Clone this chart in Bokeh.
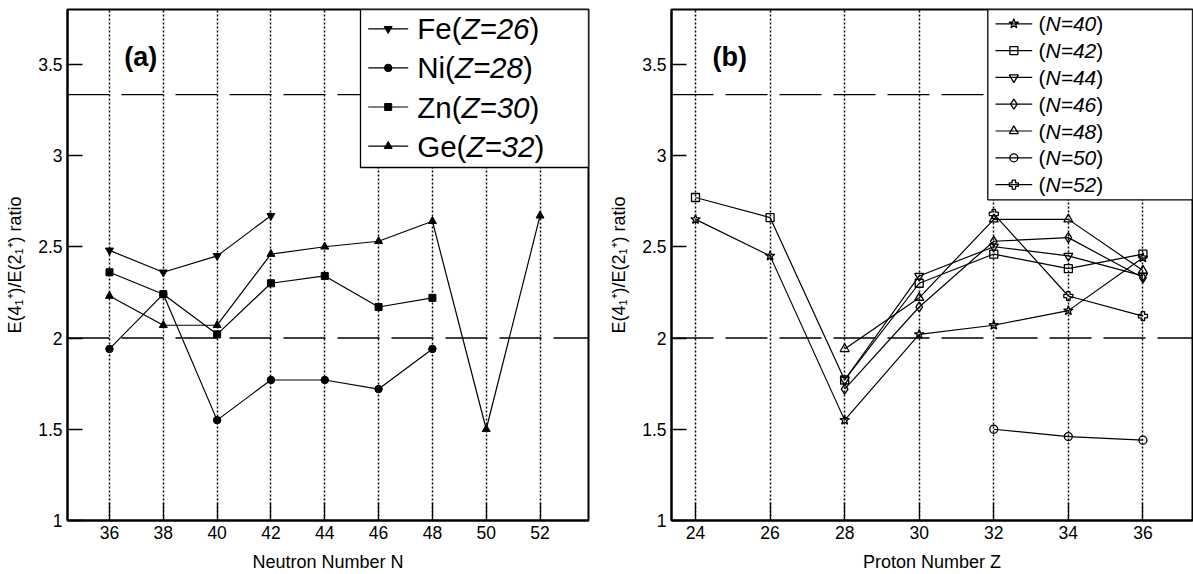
from bokeh.plotting import figure
from bokeh.models import Range1d, FixedTicker, Span, Label
from bokeh.layouts import row
from bokeh.embed import file_html
from bokeh.resources import INLINE

FONT = "Liberation Sans"

# ---------------- data: panel (a) ----------------
a_N_ticks = [36, 38, 40, 42, 44, 46, 48, 50, 52]
fe_N = [36, 38, 40, 42]
fe_ratio = [2.48, 2.36, 2.45, 2.67]
ni_N = [36, 38, 40, 42, 44, 46, 48]
ni_ratio = [1.94, 2.24, 1.55, 1.77, 1.77, 1.72, 1.94]
zn_N = [36, 38, 40, 42, 44, 46, 48]
zn_ratio = [2.36, 2.24, 2.02, 2.30, 2.34, 2.17, 2.22]
ge_N = [36, 38, 40, 42, 44, 46, 48, 50, 52]
ge_ratio = [2.23, 2.07, 2.07, 2.46, 2.50, 2.53, 2.64, 1.50, 2.67]
a_elements = ["Fe", "Ni", "Zn", "Ge"]
a_Z = ["26", "28", "30", "32"]

# ---------------- data: panel (b) ----------------
b_Z_ticks = [24, 26, 28, 30, 32, 34, 36]
n40_Z = [24, 26, 28, 30, 32, 34, 36]
n40_ratio = [2.65, 2.45, 1.55, 2.02, 2.07, 2.15, 2.44]
n42_Z = [24, 26, 28, 30, 32, 34, 36]
n42_ratio = [2.77, 2.66, 1.77, 2.30, 2.46, 2.38, 2.46]
n44_Z = [28, 30, 32, 34, 36]
n44_ratio = [1.77, 2.34, 2.50, 2.45, 2.34]
n46_Z = [28, 30, 32, 34, 36]
n46_ratio = [1.72, 2.17, 2.53, 2.55, 2.33]
n48_Z = [28, 30, 32, 34, 36]
n48_ratio = [1.94, 2.22, 2.65, 2.65, 2.37]
n50_Z = [32, 34, 36]
n50_ratio = [1.50, 1.46, 1.44]
n52_Z = [32, 34, 36]
n52_ratio = [2.68, 2.23, 2.12]
b_N = ["40", "42", "44", "46", "48", "50", "52"]

y_ticks = [1, 1.5, 2, 2.5, 3, 3.5]
y_tick_labels = ["1", "1.5", "2", "2.5", "3", "3.5"]
ref_lines = [10 / 3, 2.0]
Y_LABEL = "E(4\u2081\u207a)/E(2\u2081\u207a) ratio"

# ---------------- layout constants ----------------
FW, FH = 521, 511
Y0, Y1 = 1.0, 3.8
XA = (34.44, 53.8)
XB = (23.356, 37.33)

ARIAL = {'F': 611, 'e': 556, '(': 333, ')': 333, 'Z': 611, '=': 584, 'N': 722,
         'i': 222, 'n': 556, 'G': 778}
for d in "0123456789":
    ARIAL[d] = 556


def tw(s, size):
    return sum(ARIAL.get(c, 556) for c in s) * size / 1000.0


def fx(xr, px):
    return xr[0] + px / FW * (xr[1] - xr[0])


def fy(px):
    return Y1 - px / FH * (Y1 - Y0)


def make_panel(xr, xticks, xlabel, left, right):
    p = figure(output_backend="svg", toolbar_location=None,
               frame_width=FW, frame_height=FH,
               x_range=Range1d(*xr), y_range=Range1d(Y0, Y1),
               min_border_left=left, min_border_right=right,
               min_border_top=9, min_border_bottom=54,
               background_fill_color="white", border_fill_color="white")
    p.outline_line_color = "black"
    p.outline_line_width = 2
    p.outline_line_alpha = 1
    p.xaxis.ticker = FixedTicker(ticks=xticks)
    p.yaxis.ticker = FixedTicker(ticks=y_ticks)
    p.yaxis.major_label_overrides = dict(zip(y_ticks, y_tick_labels))
    for ax in (p.xaxis[0], p.yaxis[0]):
        ax.axis_line_width = 2
        ax.axis_line_color = "black"
        ax.major_tick_out = 0
        ax.minor_tick_in = 0
        ax.minor_tick_out = 0
        ax.major_tick_line_width = 1.3
        ax.major_tick_line_color = "black"
        ax.major_label_text_font = FONT
        ax.major_label_text_font_size = "17.5px"
        ax.major_label_text_color = "black"
        ax.axis_label_text_font = FONT
        ax.axis_label_text_font_size = "18px"
        ax.axis_label_text_font_style = "normal"
        ax.axis_label_text_color = "black"
    p.xaxis.major_tick_in = 18
    p.yaxis.major_tick_in = 15
    p.xaxis.major_label_standoff = 5
    p.yaxis.major_label_standoff = 5
    p.xaxis.axis_label_standoff = 10
    p.yaxis.axis_label_standoff = 10
    p.xaxis.axis_label = xlabel
    p.yaxis.axis_label = Y_LABEL
    p.xgrid.ticker = FixedTicker(ticks=xticks)
    p.xgrid.grid_line_color = "black"
    p.xgrid.grid_line_dash = "2 2"
    p.xgrid.grid_line_width = 1.5
    p.ygrid.visible = False
    for loc in ref_lines:
        p.add_layout(Span(location=loc, dimension="width", line_color="black",
                          line_width=1.3, line_dash="42 12", level="underlay"))
    return p


def series(p, x, y, marker, size, fill, mlw=1.0):
    p.line(x, y, line_color="black", line_width=1.2)
    p.scatter(x, y, marker=marker, size=size, line_color="black",
              fill_color=fill, line_width=mlw)


def legend(p, xr, box_l, box_b, line_l, line_r, text_l, row0, dy, entries, fsize, mlw):
    p.quad(left=fx(xr, box_l), right=xr[1], top=Y1, bottom=fy(box_b),
           fill_color="white", line_color="black", line_width=1.3)
    for i, (parts, marker, msize, fill) in enumerate(entries):
        yy = fy(row0 + i * dy)
        p.line([fx(xr, line_l), fx(xr, line_r)], [yy, yy], line_color="black", line_width=1.2)
        p.scatter([fx(xr, (line_l + line_r) / 2)], [yy], marker=marker, size=msize,
                  line_color="black", fill_color=fill, line_width=mlw)
        px = text_l
        for txt, style in parts:
            p.add_layout(Label(x=fx(xr, px), y=yy, text=txt, text_font=FONT,
                               text_font_size=f"{fsize}px", text_font_style=style,
                               text_color="black", text_align="left",
                               text_baseline="middle"))
            px += tw(txt, fsize)


# ---------------- panel (a) ----------------
pa = make_panel(XA, a_N_ticks, "Neutron Number N", 67, 16)
series(pa, fe_N, fe_ratio, "inverted_triangle", 8, "black")
series(pa, ni_N, ni_ratio, "circle", 7.5, "black")
series(pa, zn_N, zn_ratio, "square", 7, "black")
series(pa, ge_N, ge_ratio, "triangle", 8, "black")
a_markers = ["inverted_triangle", "circle", "square", "triangle"]
a_sizes = [8, 7.5, 7, 8]
a_entries = [([(el + "(", "normal"), ("Z=" + z, "italic"), (")", "normal")], m, s, "black")
             for el, z, m, s in zip(a_elements, a_Z, a_markers, a_sizes)]
legend(pa, XA, 293, 158, 300.7, 340.7, 349.7, 19.3, 39.1, a_entries, 29.5, 1.0)
pa.add_layout(Label(x=fx(XA, 56.7), y=fy(47), text="(a)", text_font=FONT,
                    text_font_size="27px", text_font_style="bold", text_color="black",
                    text_align="left", text_baseline="middle"))

# ---------------- panel (b) ----------------
pb = make_panel(XB, b_Z_ticks, "Proton Number Z", 67, 1)
b_series = [(n40_Z, n40_ratio, "star", 10), (n42_Z, n42_ratio, "square", 8),
            (n44_Z, n44_ratio, "inverted_triangle", 9), (n46_Z, n46_ratio, "diamond", 10),
            (n48_Z, n48_ratio, "triangle", 9), (n50_Z, n50_ratio, "circle", 8),
            (n52_Z, n52_ratio, "plus", 9)]
for zz, rr, m, s in b_series:
    series(pb, zz, rr, m, s, None, 1.3)
b_entries = [([("(", "normal"), ("N=" + n, "italic"), (")", "normal")], m, s, None)
             for n, (_, _, m, s) in zip(b_N, b_series)]
legend(pb, XB, 316.3, 190.3, 324, 360.7, 367, 14.3, 26.8, b_entries, 21, 1.3)
pb.add_layout(Label(x=fx(XB, 41), y=fy(47), text="(b)", text_font=FONT,
                    text_font_size="27px", text_font_style="bold", text_color="black",
                    text_align="left", text_baseline="middle"))

layout = row(pa, pb)
open("out.html", "w").write(file_html(layout, INLINE))
